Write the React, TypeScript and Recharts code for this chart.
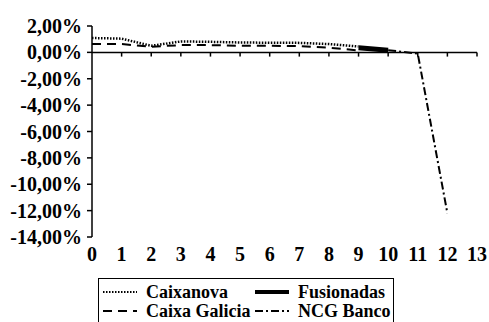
import React from 'react';
import {
  LineChart,
  Line,
  XAxis,
  YAxis,
  ReferenceLine,
} from 'recharts';

// x positions (years since start)
const xValues = [0, 1, 2, 3, 4, 5, 6, 7, 8, 9, 10, 11, 12];
const xTicks = [0, 1, 2, 3, 4, 5, 6, 7, 8, 9, 10, 11, 12, 13];
const yTicks = [2, 0, -2, -4, -6, -8, -10, -12, -14];

// values in %
const caixanova = [1.09, 1.04, 0.5, 0.83, 0.8, 0.75, 0.73, 0.72, 0.63, 0.45];
const caixaGalicia = [0.63, 0.63, 0.43, 0.55, 0.55, 0.5, 0.5, 0.48, 0.35, 0.15];
const fusionadas = [0.35, 0.17]; // x = 9..10
const ncgBanco = [0.17, -0.1, -12.2]; // x = 10..12

const data = xValues.map((x) => ({
  x,
  caixanova: caixanova[x],
  caixaGalicia: caixaGalicia[x],
  fusionadas: x >= 9 && x <= 10 ? fusionadas[x - 9] : undefined,
  ncgBanco: x >= 10 ? ncgBanco[x - 10] : undefined,
}));

const FONT = '"Liberation Serif", serif';

const fmt = (v: number) => `${v.toFixed(2).replace('.', ',')}%`;

const legendItems = [
  { name: 'Caixanova', dash: '1.5 1.5', width: 2, left: 103, top: 282 },
  { name: 'Fusionadas', dash: undefined, width: 4, left: 255, top: 282 },
  { name: 'Caixa Galicia', dash: '9 6', width: 2, left: 103, top: 301 },
  { name: 'NCG Banco', dash: '8 3 2 3', width: 2, left: 255, top: 301 },
];

export default function App() {
  return (
    <div
      style={{
        position: 'absolute',
        left: 0,
        top: 0,
        width: 489,
        height: 322,
        overflow: 'hidden',
        background: '#fff',
        fontFamily: FONT,
      }}
    >
      <LineChart
        width={489}
        height={322}
        data={data}
        margin={{ top: 26, right: 12, left: 8, bottom: 55 }}
      >
        <XAxis
          dataKey="x"
          type="number"
          domain={[0, 13]}
          ticks={xTicks}
          axisLine={false}
          tickLine={false}
          tickSize={0}
          tickMargin={10}
          height={30}
          tick={{ fill: '#000', fontSize: 20, fontWeight: 'bold', fontFamily: FONT }}
        />
        <YAxis
          type="number"
          domain={[-14, 2]}
          ticks={yTicks}
          width={84}
          tickFormatter={fmt}
          axisLine={{ stroke: '#000', strokeWidth: 1.5 }}
          tickLine={{ stroke: '#000', strokeWidth: 1.5 }}
          tickSize={5}
          tickMargin={5}
          interval={0}
          tick={{ fill: '#000', fontSize: 20, fontWeight: 'bold', fontFamily: FONT }}
        />
        <ReferenceLine y={0} stroke="#000" strokeWidth={1.5} />
        {xTicks.slice(1).map((t) => (
          <ReferenceLine
            key={`tick-${t}`}
            segment={[
              { x: t, y: 0 },
              { x: t, y: -0.32 },
            ]}
            stroke="#000"
            strokeWidth={1.5}
          />
        ))}
        <Line
          dataKey="caixanova"
          stroke="#000"
          strokeWidth={2.5}
          strokeDasharray="1.5 1.5"
          dot={false}
          isAnimationActive={false}
        />
        <Line
          dataKey="caixaGalicia"
          stroke="#000"
          strokeWidth={2}
          strokeDasharray="9 6"
          dot={false}
          isAnimationActive={false}
        />
        <Line
          dataKey="fusionadas"
          stroke="#000"
          strokeWidth={5}
          dot={false}
          isAnimationActive={false}
        />
        <Line
          dataKey="ncgBanco"
          stroke="#000"
          strokeWidth={2}
          strokeDasharray="8 3 2 3"
          dot={false}
          isAnimationActive={false}
        />
      </LineChart>
      <div
        style={{
          position: 'absolute',
          left: 98,
          top: 278,
          width: 296,
          height: 60,
          border: '1px solid #000',
          boxSizing: 'border-box',
        }}
      />
      {legendItems.map((item) => (
        <div
          key={item.name}
          style={{
            position: 'absolute',
            left: item.left,
            top: item.top,
            height: 20,
            display: 'flex',
            alignItems: 'center',
            fontSize: 18,
            fontWeight: 'bold',
            whiteSpace: 'nowrap',
          }}
        >
          <svg width={34} height={20} style={{ marginRight: 9 }}>
            <line
              x1={0}
              y1={10}
              x2={34}
              y2={10}
              stroke="#000"
              strokeWidth={item.width}
              strokeDasharray={item.dash}
            />
          </svg>
          {item.name}
        </div>
      ))}
    </div>
  );
}
